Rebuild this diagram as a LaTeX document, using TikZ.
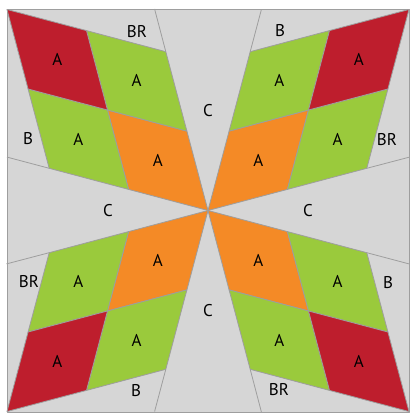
\documentclass[tikz,border=0pt]{standalone}
\usepackage{fontspec}
\setmainfont{PT Sans}
\definecolor{bgray}{RGB}{214,214,214}
\definecolor{lgray}{RGB}{158,158,158}
\definecolor{qred}{RGB}{190,30,45}
\definecolor{qgreen}{RGB}{154,202,60}
\definecolor{qorange}{RGB}{244,138,38}
\begin{document}
\begin{tikzpicture}[x=1pt,y=1pt,
  edge/.style={draw=lgray,line width=0.8pt,line join=round},
  lbl/.style={inner sep=0pt,font=\fontsize{17}{20}\selectfont}]
\useasboundingbox (-208,-203.5) rectangle (201,210.5);
\fill[white] (-208,-203.5) rectangle (201,210.5);
\path[edge,fill=bgray] (-201,-201.5) rectangle (201,201.5);
\foreach \r/\k in {0/0,-90/1,-180/2,-270/3}{
  \begin{scope}[rotate=\r]
    \coordinate (O\k) at (0,0);
    \coordinate (A\k) at (-42.2,158.8);
    \coordinate (Ah\k) at (-21.1,79.4);
    \coordinate (B\k) at (-158.8,42.2);
    \coordinate (Bh\k) at (-79.4,21.1);
    \coordinate (M\k) at (-100.5,100.5);
    \coordinate (AB2\k) at (-121.5,179.9);
    \coordinate (BA2\k) at (-179.9,121.5);
    \coordinate (C\k) at (-201,201);
    \coordinate (E\k) at (-53.4,201.5);
    \coordinate (F\k) at (-201,53.4);
    \path[edge,fill=qorange] (O\k) -- (Ah\k) -- (M\k) -- (Bh\k) -- cycle;
    \path[edge,fill=qgreen] (Ah\k) -- (A\k) -- (AB2\k) -- (M\k) -- cycle;
    \path[edge,fill=qgreen] (Bh\k) -- (M\k) -- (BA2\k) -- (B\k) -- cycle;
    \path[edge,fill=qred] (M\k) -- (AB2\k) -- (C\k) -- (BA2\k) -- cycle;
    \draw[edge] (A\k) -- (E\k);
    \draw[edge] (B\k) -- (F\k);
    \node[lbl] (ar\k) at (-150.75,150.75) {A};
    \node[lbl] (ag\k) at (-71.35,129.65) {A};
    \node[lbl] (ah\k) at (-129.65,71.35) {A};
    \node[lbl] (ao\k) at (-50.25,50.25) {A};
    \node[lbl] (br\k) at (-71,179) {BR};
    \node[lbl] (b\k) at (-180,72) {B};
    \node[lbl] (c\k) at (0,100) {C};
  \end{scope}
}
\end{tikzpicture}
\end{document}
